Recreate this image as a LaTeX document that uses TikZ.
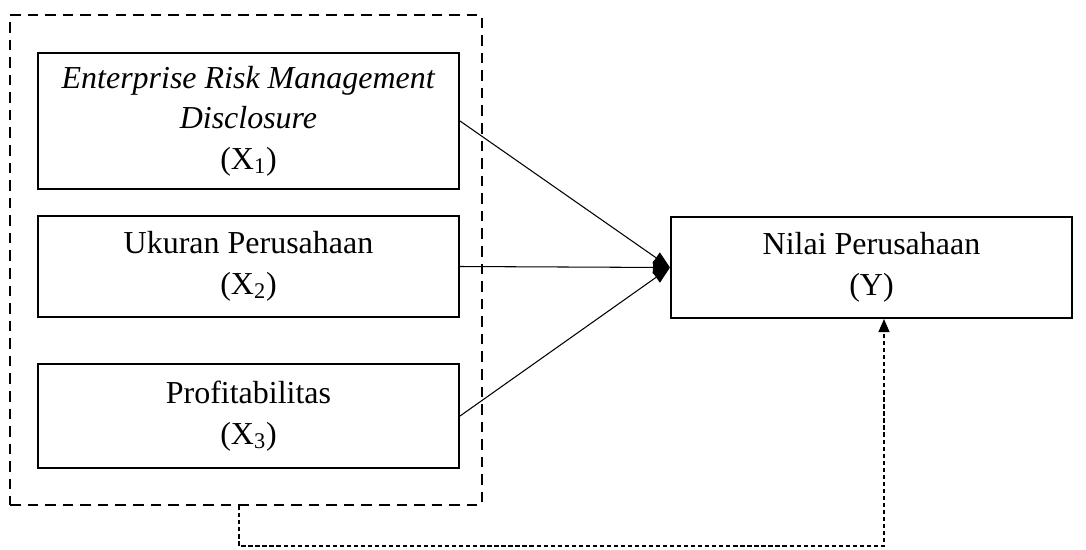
\documentclass[tikz,border=0pt]{standalone}
\usepackage{fontspec}
\setmainfont{Liberation Serif}
\usetikzlibrary{arrows.meta}

\begin{document}
\begin{tikzpicture}[x=0.02cm, y=-0.02cm,
		box_style/.style={rectangle,draw=black,line width=1.2pt,align=center,
			minimum width=8.42cm,font=\fontsize{18.2}{23}\selectfont},
		group_style/.style={rectangle,draw=black,line width=1.4pt,
			dash pattern=on 6pt off 4pt,minimum width=9.44cm,minimum height=9.8cm},
		edge_style/.style={draw=black,line width=0.6pt,-{Triangle[length=0.34cm,width=0.26cm]}},
		link_style/.style={draw=black,line width=0.6pt,dash pattern=on 2.4pt off 1.6pt,
			-{Triangle[length=0.26cm,width=0.22cm]}}]

		\useasboundingbox (0,0) rectangle (1086,549);

		\node[group_style] (grp) at (246,260) {};
		\node[box_style,minimum height=2.72cm] (erm) at (248.5,121)
			{\textit{Enterprise Risk Management}\\ \textit{Disclosure}\\ (X\textsubscript{1})};
		\node[box_style,minimum height=2.02cm] (ukuran) at (248.5,266.5)
			{Ukuran Perusahaan\\ (X\textsubscript{2})};
		\node[box_style,minimum height=2.08cm] (profit) at (248.5,416)
			{Profitabilitas\\ (X\textsubscript{3})};
		\node[box_style,minimum width=8.02cm,minimum height=2.02cm] (nilai) at (871.5,267.5)
			{Nilai Perusahaan\\ (Y)};

		\coordinate (kiri) at (239,546);
		\coordinate (kanan) at (884,546);

		\draw[edge_style] (erm.east) -- (nilai.west);
		\draw[edge_style] (ukuran.east) -- (nilai.west);
		\draw[edge_style] (profit.east) -- (nilai.west);
		\draw[link_style] (grp.south -| kiri) -- (kiri) -- (kanan) -- (kanan |- nilai.south);

\end{tikzpicture}
\end{document}
